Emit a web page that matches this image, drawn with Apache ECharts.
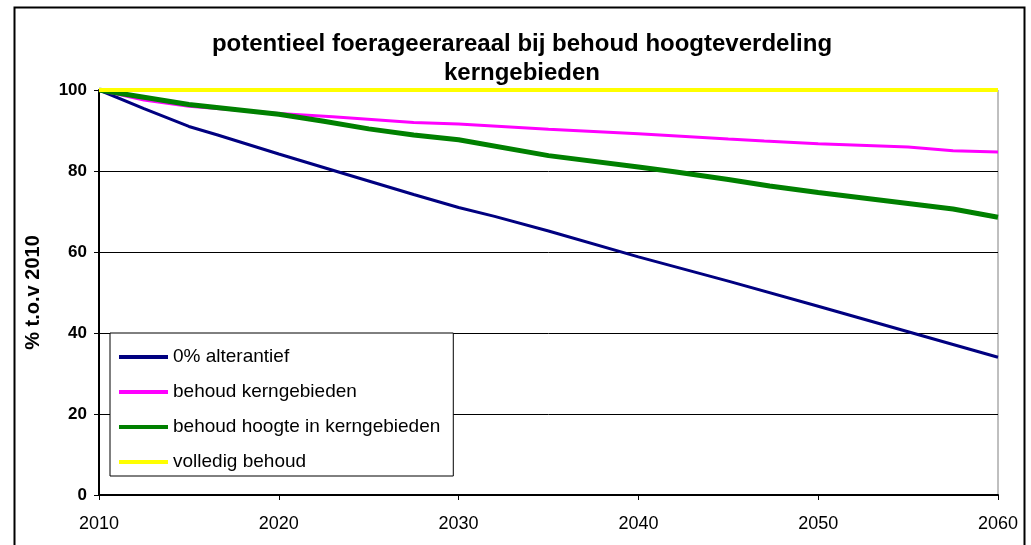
<!DOCTYPE html>
<html>
<head>
<meta charset="utf-8">
<script src="https://cdn.jsdelivr.net/npm/echarts@6/dist/echarts.min.js"></script>
<style>
html,body{margin:0;padding:0;background:#fff;}
#c{width:1031px;height:545px;}
</style>
</head>
<body>
<div id="c"></div>
<script>
const titleLines = ['potentieel foerageerareaal bij behoud hoogteverdeling', 'kerngebieden'];
const yAxisName = '% t.o.v 2010';
const seriesNames = ['0% alterantief', 'behoud kerngebieden', 'behoud hoogte in kerngebieden', 'volledig behoud'];

const yearsBlue = [2010, 2012.5, 2015, 2016.6, 2020, 2023, 2027.5, 2030, 2032, 2035, 2040, 2045, 2050, 2055, 2060];
const valsBlue  = [100, 95.4, 91.0, 88.9, 84.2, 80.2, 74.2, 71.0, 68.8, 65.2, 58.8, 52.8, 46.6, 40.3, 34.0];

const yearsMagenta = [2010, 2012.5, 2015, 2020, 2023, 2027.5, 2030, 2035, 2040, 2045, 2047, 2050, 2055, 2057.5, 2060];
const valsMagenta  = [100, 97.5, 96.0, 94.2, 93.4, 92.0, 91.6, 90.3, 89.2, 87.9, 87.4, 86.7, 85.9, 85.0, 84.7];

const yearsGreen = [2010, 2012.5, 2015, 2020, 2022.5, 2025, 2027.5, 2030, 2035, 2040, 2042, 2045, 2047.3, 2050, 2055, 2057.5, 2060];
const valsGreen  = [100, 98.2, 96.4, 94.0, 92.3, 90.4, 88.9, 87.7, 83.8, 81.0, 79.8, 77.9, 76.3, 74.7, 72.0, 70.6, 68.6];

const yearsYellow = [2010, 2060];
const valsYellow  = [100, 100];

const xTicks = [2010, 2020, 2030, 2040, 2050, 2060];
const yTicks = [0, 20, 40, 60, 80, 100];

function pairs(xs, ys) { return xs.map((x, i) => [x, ys[i]]); }

const FONT = 'Arial, "Liberation Sans", sans-serif';
const chart = echarts.init(document.getElementById('c'), null, {renderer: 'canvas'});
chart.setOption({
  animation: false,
  backgroundColor: '#ffffff',
  title: {
    text: titleLines.join('\n'),
    left: 517, top: 25, textAlign: 'center',
    textStyle: {fontFamily: FONT, fontSize: 24, fontWeight: 'bold', color: '#000', lineHeight: 29}
  },
  graphic: [{
    type: 'rect', left: 12, top: 5, silent: true,
    shape: {width: 1010, height: 570},
    style: {fill: 'none', stroke: '#000', lineWidth: 2}
  }],
  grid: {left: 99, right: 33, top: 90, bottom: 50, show: true, borderColor: '#808080', borderWidth: 1, backgroundColor: 'transparent'},
  xAxis: {
    type: 'value', min: xTicks[0], max: xTicks[xTicks.length - 1], interval: 10,
    axisLine: {show: true, onZero: false, lineStyle: {color: '#000', width: 2}},
    axisTick: {show: true, length: 5, lineStyle: {color: '#000', width: 1}},
    axisLabel: {fontFamily: FONT, fontSize: 18, color: '#000', margin: 20, showMinLabel: true, showMaxLabel: true,
      formatter: v => String(v)},
    splitLine: {show: false}
  },
  yAxis: {
    type: 'value', min: yTicks[0], max: yTicks[yTicks.length - 1], interval: 20,
    name: yAxisName, nameLocation: 'middle', nameGap: 56, nameRotate: 90,
    nameTextStyle: {fontFamily: FONT, fontSize: 20, fontWeight: 'bold', color: '#000'},
    axisLine: {show: true, lineStyle: {color: '#000', width: 2}},
    axisTick: {show: true, length: 5, lineStyle: {color: '#000', width: 1}},
    axisLabel: {fontFamily: FONT, fontSize: 17, fontWeight: 'bold', color: '#000', margin: 12},
    splitLine: {show: true, lineStyle: {color: '#000', width: 1}}
  },
  legend: {
    orient: 'vertical', left: 110, top: 333,
    data: seriesNames,
    icon: 'rect',
    itemWidth: 49, itemHeight: 4, itemGap: 15,
    padding: [14, 13, 4, 9],
    borderColor: '#000', borderWidth: 1, backgroundColor: '#fff',
    textStyle: {fontFamily: FONT, fontSize: 19, lineHeight: 20, color: '#000'}
  },
  series: [
    {name: seriesNames[0], type: 'line', data: pairs(yearsBlue, valsBlue), symbol: 'none', showSymbol: false, lineStyle: {color: '#000080', width: 3}, itemStyle: {color: '#000080'}, z: 2},
    {name: seriesNames[1], type: 'line', data: pairs(yearsMagenta, valsMagenta), symbol: 'none', showSymbol: false, lineStyle: {color: '#FF00FF', width: 3}, itemStyle: {color: '#FF00FF'}, z: 3},
    {name: seriesNames[2], type: 'line', data: pairs(yearsGreen, valsGreen), symbol: 'none', showSymbol: false, lineStyle: {color: '#008000', width: 5}, itemStyle: {color: '#008000'}, z: 4},
    {name: seriesNames[3], type: 'line', data: pairs(yearsYellow, valsYellow), symbol: 'none', showSymbol: false, lineStyle: {color: '#FFFF00', width: 4}, itemStyle: {color: '#FFFF00'}, z: 5}
  ]
});
</script>
</body>
</html>
